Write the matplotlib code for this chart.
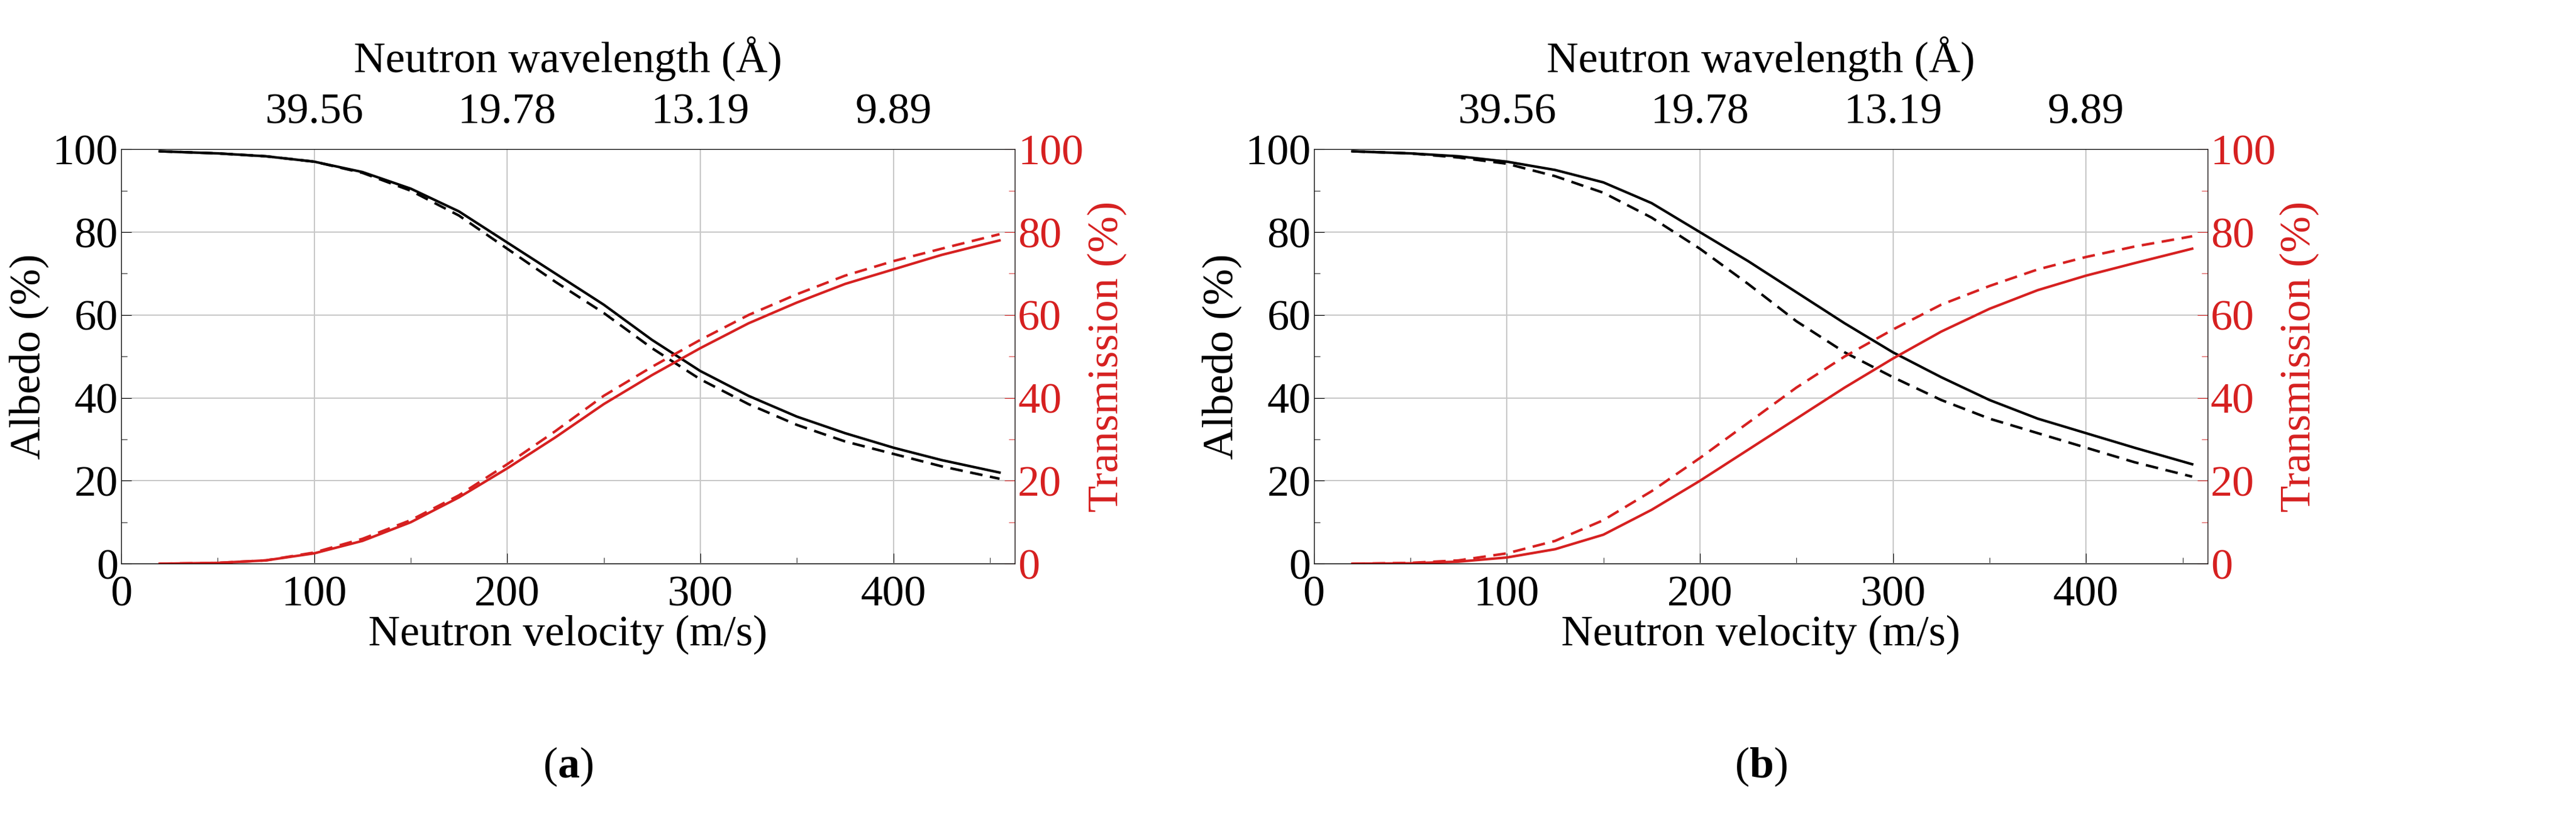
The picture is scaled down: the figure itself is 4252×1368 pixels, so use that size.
import matplotlib
matplotlib.use("Agg")
import matplotlib.pyplot as plt
from matplotlib.ticker import MultipleLocator

plt.rcParams['font.family'] = ['Liberation Serif', 'DejaVu Serif']
plt.rcParams['mathtext.fontset'] = 'custom'
plt.rcParams['mathtext.bf'] = 'Liberation Serif:bold'

v = [20, 50, 75, 100, 125, 150, 175, 200, 225, 250, 275, 300, 325, 350, 375, 400, 425, 455]
a_alb_solid = [99.5, 99.0, 98.3, 97.0, 94.5, 90.5, 85.0, 77.5, 70.0, 62.5, 54.0, 46.5, 40.5, 35.5, 31.5, 28.0, 25.0, 22.0]
a_alb_dash = [99.5, 99.0, 98.3, 97.0, 94.3, 90.0, 84.0, 76.0, 68.0, 60.5, 52.0, 44.5, 38.5, 33.5, 29.5, 26.5, 23.5, 20.5]
a_tr_solid = [0.0, 0.2, 0.8, 2.5, 5.5, 10.0, 16.0, 23.0, 30.5, 38.5, 45.5, 52.0, 58.0, 63.0, 67.5, 71.0, 74.5, 78.0]
a_tr_dash = [0.0, 0.2, 0.8, 2.7, 6.0, 10.5, 16.5, 24.0, 32.0, 40.5, 47.5, 54.0, 60.0, 65.0, 69.5, 73.0, 76.0, 79.5]
b_alb_solid = [99.5, 99.0, 98.3, 97.0, 95.0, 92.0, 87.0, 80.0, 73.0, 65.5, 58.0, 51.0, 45.0, 39.5, 35.0, 31.5, 28.0, 24.0]
b_alb_dash = [99.5, 99.0, 98.0, 96.5, 93.5, 89.5, 83.5, 76.0, 67.5, 58.5, 51.0, 45.0, 39.5, 35.0, 31.5, 28.0, 24.5, 21.0]
b_tr_solid = [0.0, 0.1, 0.5, 1.5, 3.5, 7.0, 13.0, 20.0, 27.5, 35.0, 42.5, 49.5, 56.0, 61.5, 66.0, 69.5, 72.5, 76.0]
b_tr_dash = [0.0, 0.2, 0.8, 2.5, 5.5, 10.5, 17.5, 25.5, 34.0, 42.5, 50.0, 56.5, 62.5, 67.0, 71.0, 74.0, 76.5, 79.0]
top_ticks = [100, 200, 300, 400]
top_labels = ['39.56', '19.78', '13.19', '9.89']

RED = '#d62020'
fig = plt.figure(figsize=(42.52, 13.68), dpi=100)
panels = [(0.047, a_alb_solid, a_alb_dash, a_tr_solid, a_tr_dash, r'($\mathbf{a}$)'),
          (0.510, b_alb_solid, b_alb_dash, b_tr_solid, b_tr_dash, r'($\mathbf{b}$)')]
fs = 52
for left, als, ald, trs, trd, lab in panels:
    ax = fig.add_axes([left, 0.32, 0.347, 0.50])
    ax.plot(v, als, color='black', lw=3)
    ax.plot(v, ald, color='black', lw=3, ls=(0, (5, 3)))
    ax.set_xlim(0, 463); ax.set_ylim(0, 100)
    ax.xaxis.set_major_locator(MultipleLocator(100)); ax.xaxis.set_minor_locator(MultipleLocator(50))
    ax.yaxis.set_major_locator(MultipleLocator(20)); ax.yaxis.set_minor_locator(MultipleLocator(10))
    ax.grid(True, which='major', color='#c8c8c8', lw=1.5)
    ax.tick_params(which='both', direction='in', labelsize=fs, length=12)
    ax.tick_params(which='minor', length=7)
    ax.tick_params(axis='x', pad=14)
    ax.set_xlabel('Neutron velocity (m/s)', fontsize=fs, labelpad=0)
    ax.set_ylabel('Albedo (%)', fontsize=fs, labelpad=4)
    ax2 = ax.twinx()
    ax2.plot(v, trs, color=RED, lw=3)
    ax2.plot(v, trd, color=RED, lw=3, ls=(0, (5, 3)))
    ax2.set_ylim(0, 100)
    ax2.yaxis.set_major_locator(MultipleLocator(20)); ax2.yaxis.set_minor_locator(MultipleLocator(10))
    ax2.tick_params(which='both', direction='in', labelsize=fs, colors=RED, length=12)
    ax2.tick_params(which='minor', length=7)
    ax2.spines['right'].set_color(RED)
    ax2.set_ylabel('Transmission (%)', fontsize=fs, color=RED)
    ax3 = ax.twiny()
    ax3.set_xlim(ax.get_xlim())
    ax3.set_xticks(top_ticks); ax3.set_xticklabels(top_labels)
    ax3.tick_params(direction='in', length=0, labelsize=fs, pad=20)
    ax3.set_xlabel('Neutron wavelength (Å)', fontsize=fs, labelpad=25)
    fig.text(left + 0.347 / 2, 0.075, lab, fontsize=fs, ha='center', va='center')

fig.savefig('out.png', dpi=100, facecolor='white')
